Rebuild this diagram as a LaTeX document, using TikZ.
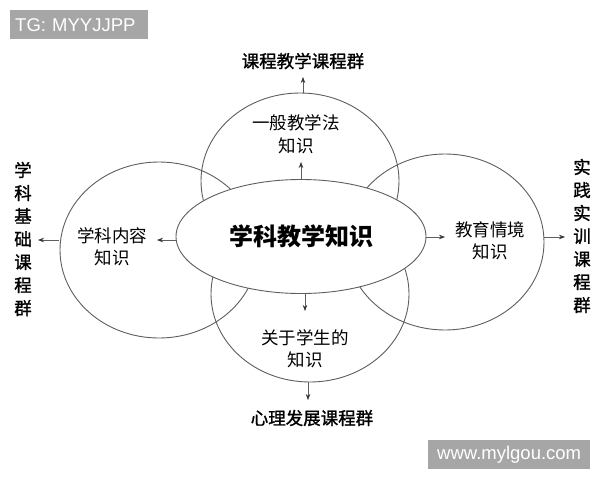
\documentclass[tikz,border=0pt]{standalone}
\usepackage{fontspec}
\newfontfamily\cjk{Noto Sans CJK SC}
\newfontfamily\cjkm[FakeBold=1.3]{Noto Sans CJK SC}
\newfontfamily\wm{Liberation Sans}
\usetikzlibrary{shapes.geometric,arrows.meta}
\definecolor{linegray}{HTML}{5E5E5E}
\definecolor{wmgray}{HTML}{A6A6A6}
\begin{document}
\begin{tikzpicture}[x=1pt,y=-1pt,
  shp/.style={draw=linegray, line width=0.9pt, ellipse, minimum width=198pt, minimum height=176pt, inner sep=0pt},
  lbl/.style={font=\cjk\fontsize{17.5}{22.5}\selectfont, align=center, inner sep=0pt},
  grp/.style={font=\cjkm\fontsize{17.5}{23}\selectfont, align=center, inner sep=0pt},
  arr/.style={draw=linegray, line width=0.7pt, -{Stealth[length=6pt,width=4.5pt,color=black!80]}},
  wmbox/.style={fill=wmgray, text=white, font=\wm\fontsize{18.5}{20}\selectfont, inner sep=0pt, minimum height=29pt}
]
\fill[white] (0,0) rectangle (600,480);
\useasboundingbox (0,0) rectangle (600,480);

% outer knowledge areas
\node[shp] (topk) at (300,181) {};
\node[shp] (leftk) at (159,250) {};
\node[shp] (rightk) at (445,242) {};
\node[shp] (botk) at (310,294) {};

% central ellipse
\node[draw=linegray, line width=0.9pt, fill=white, ellipse, minimum width=250pt, minimum height=114pt, inner sep=0pt,
      font=\cjk\bfseries\fontsize{24}{28}\selectfont] (core) at (301,236.5) {学科教学知识};

% texts in areas
\node[lbl] (toptxt) at (296,134.5) {一般教学法\\知识};
\node[lbl] (lefttxt) at (112,247) {学科内容\\知识};
\node[lbl] (righttxt) at (490,241) {教育情境\\知识};
\node[lbl] (bottxt) at (305,349) {关于学生的\\知识};

% course groups
\node[grp] (gtop) at (303,61) {课程教学课程群};
\node[grp] (gbot) at (312,418) {心理发展课程群};
\node[grp] (gleft) at (23,239) {学\\科\\基\\础\\课\\程\\群};
\node[grp] (gright) at (582,236) {实\\践\\实\\训\\课\\程\\群};

% free arrow ends
\coordinate (e1) at (303,77);
\coordinate (e2) at (301,162);
\coordinate (e3) at (157,240);
\coordinate (e4) at (38,240);
\coordinate (e5) at (445,237);
\coordinate (e6) at (565,237);
\coordinate (e7) at (305,311);
\coordinate (e8) at (308,400);
\coordinate (s1) at (303,93);
\coordinate (s4) at (59,240);
\coordinate (s6) at (544,237);
\coordinate (s8) at (308,382);

\draw[arr] (s1) -- (e1);
\draw[arr] (core.north) -- (e2);
\draw[arr] (core.west |- e3) -- (e3);
\draw[arr] (s4) -- (e4);
\draw[arr] (core.east |- e5) -- (e5);
\draw[arr] (s6) -- (e6);
\draw[arr] (core.south -| e7) -- (e7);
\draw[arr] (s8) -- (e8);

% watermarks
\node[wmbox, minimum width=138pt, text width=128pt, align=left, anchor=north west] (wm1) at (10,10) {TG: MYYJJPP};
\node[wmbox, minimum width=162pt, anchor=north west] (wm2) at (428,440) {www.mylgou.com};
\end{tikzpicture}
\end{document}
